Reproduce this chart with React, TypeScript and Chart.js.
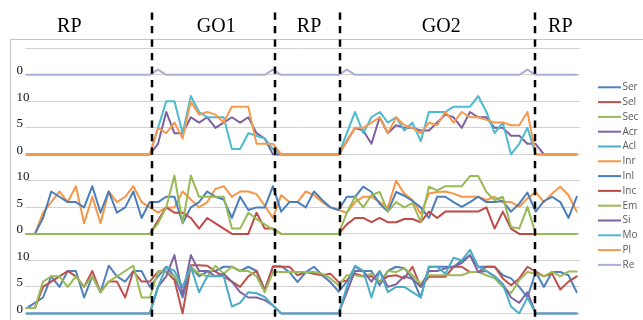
import React, { useEffect, useRef } from 'react';
import { Chart, registerables } from 'chart.js';

Chart.register(...registerables);

// ---- categories (sample number along the trial, 1..68) ----
const samples: string[] = Array.from({ length: 68 }, (_, i) => String(i + 1));

// ---- phases: label, where it sits and boundaries (in sample-number units) ----
const phaseLabels = ['RP', 'GO1', 'RP', 'GO2', 'RP'];
const phaseLabelAt = [6.2, 24.1, 35.4, 51.5, 66.0];
const phaseBounds = [16.26, 31.3, 39.22, 62.86];

// ---- panel 1 ----
const Re = [0,0,0,0,0,0,0,0,0,0, 0,0,0,0,0,0,1,0,0,0, 0,0,0,0,0,0,0,0,0,0, 1,0,0,0,0,0,0,0,0,1, 0,0,0,0,0,0,0,0,0,0, 0,0,0,0,0,0,0,0,0,0, 0,1,0,0,0,0,0,0];

// ---- panel 2 ----
const Si = [0,0,0,0,0,0,0,0,0,0, 0,0,0,0,0,0,2,8,4,4, 7,6,7,5,6,7,6,7,4,3, 0,0,0,0,0,0,0,0,0,2.5, 5,4.5,2,7,4,5.5,5,5,4.5,4.5, 6,7.5,7,5,8,7,7,5,5,3.5, 3.5,2,2,0,0,0,0,0];
const Mo = [0,0,0,0,0,0,0,0,0,0, 0,0,0,0,0,0,5,10,10,4, 11,8,7,7,7,1,1,4,3.5,3, 1,0,0,0,0,0,0,0,0,4, 8,4,7,8,6,7,4.5,6,2.5,8, 8,8,9,9,9,11,8,4,6,0, 2,5,0,0,0,0,0,0];
const Pl = [0,0,0,0,0,0,0,0,0,0, 0,0,0,0,0,0,5,4,6,3, 10,7.5,8,7.5,6,9,9,9,2,2, 2,0,0,0,0,0,0,0,0,2.5, 5,5,6,7,4,7,5.5,5,4,6, 5.5,8,6,8,7,7,6.5,6,6,5.5, 5.5,8,0,0,0,0,0,0];

// ---- panel 3 ----
const Inr = [0,0,4,6,8,6,9,2,7,2, 8,6,7,9,6,5,4,5,5,8, 6.5,5,6,8.5,9,7,8,8,7.5,5.3, 3,7.3,6,6,8,7.3,6,5,4.5,4, 6,7,7,6,5,10,7.6,6.4,3.8,7.6, 7.9,8,7.6,7,7,7,6.4,7,6,6, 5.1,6.7,7.9,6,7.6,8.9,7.3,4.2];
const Inl = [0,0,3,8,7,6,6,5,9,4, 8,4,5,8,3,6,6,7,7,2, 5,6,8,7,6.5,3,7,4.5,5,5, 9,4.2,6,6,5,8,6.4,5,4.5,7, 7,8.9,7.9,5.7,4.2,7.9,7.2,6.2,5,3, 7,7,6,5.1,6,7,6,6,6.2,4.2, 5.7,7.8,4.2,6.2,7,6,3,7];
const Inc = [0,0,0,0,0,0,0,0,0,0, 0,0,0,0,0,0,2.5,5,4,4, 3,1,3,2,1,0,0,0,4,1, 1,0,0,0,0,0,0,0,0,1.8, 3,3,2.2,3,2.2,2.2,2.8,2.8,2.2,4.2, 3,4.2,4.2,4.2,4.2,4.2,5,1,4.2,1, 0,0,0,0,0,0,0,0];
const Em = [0,0,0,0,0,0,0,0,0,0, 0,0,0,0,0,0,2,5,11,2, 11,7,7,7,7,1,1,4,2.8,1.8, 0.8,0,0,0,0,0,0,0,0,4, 7,5,7.3,7.9,4.2,6,5,5.8,2.3,8.9, 8.2,9,9,9,10.9,10.9,7.9,6.4,7,1.3, 1,5.1,0,0,0,0,0,0];

// ---- panel 4 ----
const Ser = [1,2,3,7,5,8,8,3,7,4, 9,7,6,8,8,5,7,8.8,7,3, 8.8,7,7.9,8,8.8,8.8,8,8.8,8,4.4, 8.9,8.9,7.8,5.9,7.8,8.8,7.2,5.9,4.1,6, 8.8,8,8,5.3,8,8.8,8.5,6.6,3,8.8, 8.8,8.8,8.8,10,10.9,8.8,8.8,8.8,7.2,6.6, 5,3,7.8,5,7.8,7.8,7.2,4];
const Sel = [1,1,5,6,7,8,7,5,8,4, 6,6,3,8,6,6,7.9,7.9,6.3,0, 9.1,9.1,9,7.9,7,6,5,7,8,4.4, 8.8,8.8,8.8,7.2,7.8,7.5,7.2,7.5,5.9,6.2, 7.5,7,7,6,7,7.2,6.6,8.8,5,6.9, 6.9,6.9,8.8,8.8,7.8,7.8,8.8,8.8,6.6,5.3, 6.6,8.8,7.9,7,7.5,4.5,6,7];
const Sec = [1,1,6,7,7,5,7,5,7,4, 6,7,8,9,3,3,7.9,7.9,7,5, 8.8,7.5,7,9,7.5,8.8,8,8,7,4, 7.8,7.8,7.8,7.8,7.8,7.8,7.5,6.6,5.3,7.2, 7.2,6.9,7.5,6,8,7.8,8.5,7.2,5.6,7.2, 7.2,7.2,7.2,7.2,7.8,7.8,7.2,6.6,5,3.8, 6.3,7.8,7.5,7,7.9,7,7.9,7.9];
const Acr = [0,0,0,0,0,0,0,0,0,0, 0,0,0,0,0,0,5,7,11,3.5, 11,8,8,7,7.5,6,4,3,3,2.5, 1.5,0,0,0,0,0,0,0,0,4, 8,8,6,8,5,5.5,7,6.5,5,8, 8,8.5,8.8,9.5,11,7.8,8,7,5.5,3, 2,4,0,0,0,0,0,0];
const Acl = [0,0,0,0,0,0,0,0,0,0, 0,0,0,0,0,0,5,8.8,8,5, 8.8,4,7,7,7,1.3,2,4,3.8,3.1, 1.5,0,0,0,0,0,0,0,0,5, 9,8,3,8,4,5,5,4,3,8.8, 8.8,7.5,10.5,10,12,8.8,8,7,5.5,1.3, 0,3,0,0,0,0,0,0];

// ---- series table: name, values, panel axis, colour ----
const seriesNames = ['Ser', 'Sel', 'Sec', 'Acr', 'Acl', 'Inr', 'Inl', 'Inc', 'Em', 'Si', 'Mo', 'Pl', 'Re'];
const seriesValues = [Ser, Sel, Sec, Acr, Acl, Inr, Inl, Inc, Em, Si, Mo, Pl, Re];
const seriesPanel = ['y4', 'y4', 'y4', 'y4', 'y4', 'y3', 'y3', 'y3', 'y3', 'y2', 'y2', 'y2', 'y1'];
const seriesColors = ['#4F81BD', '#C0504D', '#9BBB59', '#8064A2', '#4BACC6', '#F79646', '#4A7EBB', '#BE4B48', '#98B954', '#7D60A0', '#4BBBD0', '#F59A4F', '#A9B0D6'];

// ---- panel ranges and tick values (per stacked axis, bottom to top) ----
const panelIds = ['y4', 'y3', 'y2', 'y1'];
const panelMin = [-1, -1, -1, -1];
const panelMax = [14, 14, 14, 6.2];
const panelTicks = [[0, 5, 10], [0, 5, 10], [0, 5, 10], [0, 5]];
const panelTickLabels = [['0', '5', '10'], ['0', '5', '10'], ['0', '5', '10'], ['0', '']];

const SERIF = '"Liberation Serif", "Times New Roman", serif';
const SANS = '"Open Sans", "Liberation Sans", sans-serif';
const AXIS_W = 8.5;

const overlayPlugin = {
  id: 'overlay',
  beforeDraw(chart: any) {
    const { ctx } = chart;
    ctx.save();
    ctx.strokeStyle = '#c4c4c4';
    ctx.lineWidth = 1;
    ctx.strokeRect(10.5, 39.5, 700, 400);
    ctx.restore();
  },
  afterDatasetsDraw(chart: any) {
    const { ctx } = chart;
    const xs = chart.scales.x;
    ctx.save();
    ctx.strokeStyle = '#000';
    ctx.lineWidth = 2.5;
    ctx.setLineDash([7.3, 6.2]);
    phaseBounds.forEach((b) => {
      const px = Math.round(xs.getPixelForValue(b));
      ctx.beginPath();
      ctx.moveTo(px, 12.5);
      ctx.lineTo(px, 322);
      ctx.stroke();
    });
    ctx.setLineDash([]);
    ctx.fillStyle = '#000';
    ctx.font = `20px ${SERIF}`;
    ctx.textAlign = 'center';
    ctx.textBaseline = 'alphabetic';
    phaseLabels.forEach((t, i) => {
      ctx.fillText(t, xs.getPixelForValue(phaseLabelAt[i]), 32.3);
    });
    ctx.restore();
  },
  afterDraw(chart: any) {
    const { ctx } = chart;
    ctx.save();
    ctx.font = `10px ${SANS}`;
    ctx.textAlign = 'left';
    ctx.textBaseline = 'middle';
    const top = 87.3;
    const step = 14.8;
    chart.data.datasets.forEach((ds: any, i: number) => {
      const y = top + i * step;
      ctx.strokeStyle = ds.borderColor;
      ctx.lineWidth = 2;
      ctx.beginPath();
      ctx.moveTo(598, y);
      ctx.lineTo(621, y);
      ctx.stroke();
      ctx.fillStyle = '#595959';
      ctx.fillText(ds.label, 622.5, y);
    });
    ctx.restore();
  },
};

function panelAxis(idx: number) {
  const min = panelMin[idx];
  const max = panelMax[idx];
  const tickVals = panelTicks[idx];
  const tickLabels = panelTickLabels[idx];
  return {
    type: 'linear',
    position: 'left',
    stack: 'panels',
    stackWeight: max - min,
    min,
    max,
    border: { display: false },
    grid: { color: '#d2d2d2', lineWidth: 1, drawTicks: false },
    ticks: {
      autoSkip: false,
      mirror: true,
      crossAlign: 'near',
      padding: -AXIS_W,
      labelOffset: -4,
      color: '#111',
      font: { family: SERIF, size: 13 },
      callback: (v: number) => {
        const k = tickVals.indexOf(v);
        return k >= 0 ? tickLabels[k] : '';
      },
    },
    afterBuildTicks: (s: any) => {
      s.ticks = tickVals.map((v) => ({ value: v }));
    },
    afterFit: (s: any) => {
      s.width = AXIS_W;
    },
  };
}

export default function App() {
  const ref = useRef<HTMLCanvasElement | null>(null);
  useEffect(() => {
    if (!ref.current) return;
    const datasets = seriesNames.map((name, i) => ({
      label: name,
      data: seriesValues[i],
      yAxisID: seriesPanel[i],
      borderColor: seriesColors[i],
      backgroundColor: seriesColors[i],
      borderWidth: 2,
      pointRadius: 0,
      tension: 0,
      fill: false,
      borderJoinStyle: 'round',
      borderCapStyle: 'round',
      order: seriesNames.length - i,
    }));
    const scales: any = { x: { type: 'linear', display: false, min: 0.8, max: 68.4 } };
    panelIds.forEach((id, idx) => {
      scales[id] = panelAxis(idx);
    });
    const chart = new Chart(ref.current, {
      type: 'line',
      data: { labels: samples, datasets: datasets as any },
      options: {
        animation: false,
        responsive: false,
        maintainAspectRatio: false,
        layout: { padding: { left: 16.5, right: 63, top: 42, bottom: 1.3 } },
        plugins: { legend: { display: false }, tooltip: { enabled: false } },
        scales,
      } as any,
      plugins: [overlayPlugin],
    });
    return () => chart.destroy();
  }, []);
  return (
    <div style={{ position: 'fixed', left: 0, top: 0, width: 643, height: 320, background: '#fff' }}>
      <canvas ref={ref} width={643} height={320} style={{ width: 643, height: 320, display: 'block' }} />
    </div>
  );
}
